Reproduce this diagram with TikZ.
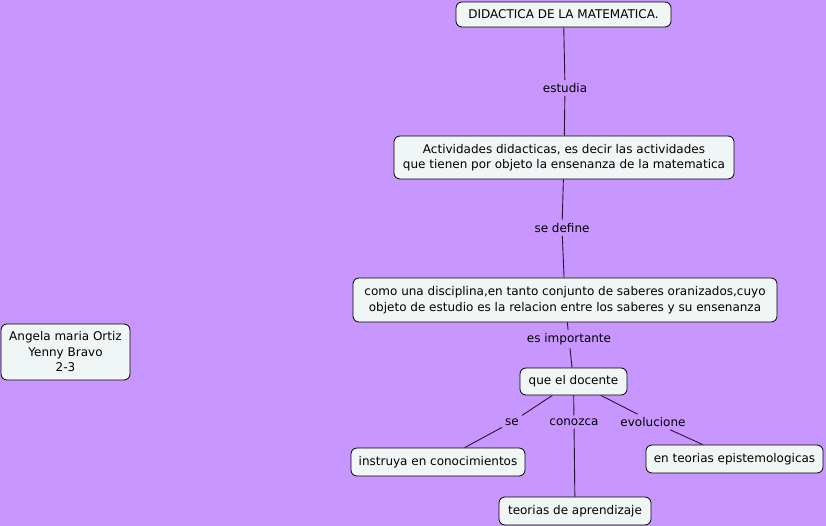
\documentclass[tikz,border=0pt]{standalone}
\usepackage{fontspec}
\setmainfont{DejaVu Sans}
\definecolor{bgpurple}{RGB}{200,150,255}
\definecolor{nodefill}{RGB}{240,245,245}
\definecolor{linecol}{RGB}{40,20,50}
\begin{document}
\begin{tikzpicture}[x=1pt,y=-1pt,
  concept/.style={draw=black, line width=0.8pt, fill=nodefill, rounded corners=6pt,
    inner sep=0pt, align=center, font=\fontsize{12}{15.5}\selectfont},
  linkph/.style={inner sep=3pt, font=\fontsize{12}{13}\selectfont},
  conn/.style={draw=linecol, line width=0.9pt}]
\fill[bgpurple] (0,0) rectangle (826,526);
\useasboundingbox (0,0) rectangle (826,526);

\node[concept, minimum width=215, minimum height=25] (did) at (563.5,14.5) {DIDACTICA DE LA MATEMATICA.};
\node[concept, minimum width=340, minimum height=43] (act) at (564,157.5) {Actividades didacticas, es decir las actividades\\que tienen por objeto la ensenanza de la matematica};
\node[concept, minimum width=424, minimum height=44] (como) at (565,300) {como una disciplina,en tanto conjunto de saberes oranizados,cuyo\\objeto de estudio es la relacion entre los saberes y su ensenanza};
\node[concept, minimum width=129, minimum height=56] (ang) at (65.5,352) {Angela maria Ortiz\\Yenny Bravo\\2-3};
\node[concept, minimum width=107, minimum height=27] (doc) at (573.5,381.5) {que el docente};
\node[concept, minimum width=174, minimum height=28] (ins) at (438,462) {instruya en conocimientos};
\node[concept, minimum width=152, minimum height=28] (apr) at (575,511) {teorias de aprendizaje};
\node[concept, minimum width=177, minimum height=28] (epi) at (734.5,459) {en teorias epistemologicas};

\node[linkph] (l1) at (565,88) {estudia};
\node[linkph] (l2) at (562,228) {se define};
\node[linkph] (l3) at (569,339) {es importante};
\node[linkph] (l4) at (512,422) {se};
\node[linkph] (l5) at (574,422) {conozca};
\node[linkph] (l6) at (653,422) {evolucione};

\draw[conn] (did) -- (l1);
\draw[conn] (l1) -- (act);
\draw[conn] (act) -- (l2);
\draw[conn] (l2) -- (como);
\draw[conn] (como) -- (l3);
\draw[conn] (l3) -- (doc);
\draw[conn] (doc) -- (l4);
\draw[conn] (l4) -- (ins);
\draw[conn] (doc) -- (l5);
\draw[conn] (l5) -- (apr);
\draw[conn] (doc) -- (l6);
\draw[conn] (l6) -- (epi);
\end{tikzpicture}
\end{document}
